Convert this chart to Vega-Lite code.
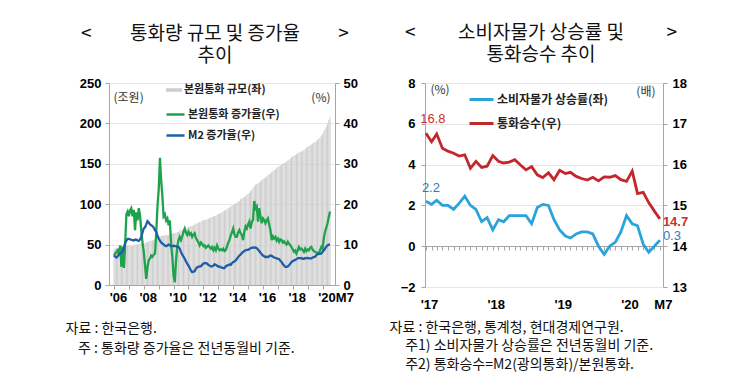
{
"$schema": "https://vega.github.io/schema/vega-lite/v6.json",
"background": "white",
"padding": {"left": 65, "top": 24, "right": 5, "bottom": 5},
"spacing": 31,
"config": {
  "view": {"stroke": null},
  "font": "Noto Sans CJK KR",
  "axis": {"labelFont": "Liberation Sans", "labelFontSize": 13, "labelFontWeight": "bold", "labelColor": "#000", "domainColor": "#a6a6a6", "tickColor": "#a6a6a6", "gridColor": "#e6e6e6", "titleFont": "Noto Sans CJK KR", "titleFontWeight": "normal", "titleFontSize": 12, "titleColor": "#333"},
  "legend": {"labelFont": "Noto Sans CJK KR", "labelFontWeight": "bold", "labelColor": "#222", "padding": 0}
},
"resolve": {"scale": {"stroke": "independent", "fill": "independent"}, "legend": {"stroke": "independent", "fill": "independent"}},
"hconcat": [
{
  "width": 226, "height": 202,
  "title": {"text": ["<\u00a0\u00a0\u00a0\u00a0\u00a0\u00a0\u00a0\u00a0\u00a0통화량 규모 및 증가율\u00a0\u00a0\u00a0\u00a0\u00a0\u00a0\u00a0\u00a0\u00a0>", "추이"], "font": "Noto Sans CJK KR", "fontSize": 19, "fontWeight": "normal", "lineHeight": 22, "anchor": "middle", "dx": -7, "offset": 11, "color": "#111"},
  "data": {"values": [
{"d":"2006-01-01","b":45,"g":7.3,"m":7.3},{"d":"2006-02-01","b":45,"g":7.8,"m":7.0},{"d":"2006-03-01","b":46,"g":8.2,"m":6.8},{"d":"2006-04-01","b":45,"g":8.6,"m":7.1},{"d":"2006-05-01","b":46,"g":7.5,"m":7.5},{"d":"2006-06-01","b":46,"g":9.8,"m":7.8},{"d":"2006-07-01","b":47,"g":4.5,"m":8.0},{"d":"2006-08-01","b":46,"g":9.5,"m":8.3},{"d":"2006-09-01","b":47,"g":4.2,"m":9.2},{"d":"2006-10-01","b":47,"g":10.0,"m":10.5},{"d":"2006-11-01","b":48,"g":17.5,"m":11.0},{"d":"2006-12-01","b":49,"g":18.2,"m":11.4},
{"d":"2007-01-01","b":49,"g":17.0,"m":11.4},{"d":"2007-02-01","b":48,"g":18.5,"m":11.3},{"d":"2007-03-01","b":48,"g":19.0,"m":11.2},{"d":"2007-04-01","b":49,"g":17.0,"m":11.1},{"d":"2007-05-01","b":49,"g":18.6,"m":11.0},{"d":"2007-06-01","b":50,"g":13.6,"m":11.2},{"d":"2007-07-01","b":50,"g":18.0,"m":11.2},{"d":"2007-08-01","b":50,"g":16.0,"m":11.0},{"d":"2007-09-01","b":51,"g":19.0,"m":10.9},{"d":"2007-10-01","b":51,"g":17.3,"m":11.3},{"d":"2007-11-01","b":52,"g":13.2,"m":11.9},{"d":"2007-12-01","b":53,"g":10.5,"m":13.0},
{"d":"2008-01-01","b":52,"g":8.2,"m":14.0},{"d":"2008-02-01","b":52,"g":4.8,"m":14.3},{"d":"2008-03-01","b":53,"g":1.5,"m":15.0},{"d":"2008-04-01","b":53,"g":4.4,"m":15.8},{"d":"2008-05-01","b":54,"g":6.1,"m":15.5},{"d":"2008-06-01","b":54,"g":6.5,"m":15.0},{"d":"2008-07-01","b":55,"g":7.3,"m":14.8},{"d":"2008-08-01","b":55,"g":7.0,"m":14.6},{"d":"2008-09-01","b":56,"g":7.5,"m":14.2},{"d":"2008-10-01","b":57,"g":7.8,"m":13.6},{"d":"2008-11-01","b":58,"g":12.8,"m":13.2},{"d":"2008-12-01","b":59,"g":19.4,"m":12.2},
{"d":"2009-01-01","b":60,"g":23.6,"m":11.5},{"d":"2009-02-01","b":60,"g":31.5,"m":11.0},{"d":"2009-03-01","b":61,"g":26.0,"m":10.5},{"d":"2009-04-01","b":61,"g":22.0,"m":10.3},{"d":"2009-05-01","b":61,"g":17.0,"m":10.0},{"d":"2009-06-01","b":62,"g":17.5,"m":9.8},{"d":"2009-07-01","b":62,"g":16.0,"m":9.6},{"d":"2009-08-01","b":62,"g":16.5,"m":9.8},{"d":"2009-09-01","b":62,"g":14.8,"m":10.0},{"d":"2009-10-01","b":63,"g":16.0,"m":9.8},{"d":"2009-11-01","b":63,"g":10.0,"m":9.6},{"d":"2009-12-01","b":64,"g":6.9,"m":9.6},
{"d":"2010-01-01","b":64,"g":2.3,"m":9.7},{"d":"2010-02-01","b":64,"g":0.7,"m":9.6},{"d":"2010-03-01","b":65,"g":6.1,"m":9.6},{"d":"2010-04-01","b":65,"g":9.5,"m":9.5},{"d":"2010-05-01","b":66,"g":11.1,"m":9.4},{"d":"2010-06-01","b":67,"g":11.9,"m":9.0},{"d":"2010-07-01","b":68,"g":11.1,"m":8.2},{"d":"2010-08-01","b":68,"g":12.0,"m":7.5},{"d":"2010-09-01","b":69,"g":13.2,"m":7.0},{"d":"2010-10-01","b":69,"g":14.0,"m":6.5},{"d":"2010-11-01","b":70,"g":13.0,"m":5.8},{"d":"2010-12-01","b":71,"g":12.4,"m":5.3},
{"d":"2011-01-01","b":72,"g":13.2,"m":4.8},{"d":"2011-02-01","b":72,"g":12.5,"m":4.2},{"d":"2011-03-01","b":73,"g":12.8,"m":3.6},{"d":"2011-04-01","b":73,"g":11.9,"m":3.2},{"d":"2011-05-01","b":74,"g":12.5,"m":3.3},{"d":"2011-06-01","b":75,"g":12.8,"m":3.4},{"d":"2011-07-01","b":76,"g":11.6,"m":4.0},{"d":"2011-08-01","b":76,"g":11.1,"m":4.4},{"d":"2011-09-01","b":77,"g":10.5,"m":4.5},{"d":"2011-10-01","b":78,"g":9.8,"m":4.6},{"d":"2011-11-01","b":78,"g":10.5,"m":4.6},{"d":"2011-12-01","b":80,"g":10.2,"m":5.0},
{"d":"2012-01-01","b":80,"g":9.6,"m":5.3},{"d":"2012-02-01","b":80,"g":9.8,"m":5.4},{"d":"2012-03-01","b":81,"g":9.2,"m":5.4},{"d":"2012-04-01","b":81,"g":9.5,"m":5.3},{"d":"2012-05-01","b":82,"g":9.8,"m":5.0},{"d":"2012-06-01","b":83,"g":9.4,"m":4.8},{"d":"2012-07-01","b":84,"g":9.0,"m":4.6},{"d":"2012-08-01","b":84,"g":9.4,"m":4.6},{"d":"2012-09-01","b":85,"g":8.6,"m":4.8},{"d":"2012-10-01","b":85,"g":9.2,"m":5.1},{"d":"2012-11-01","b":86,"g":8.6,"m":5.0},{"d":"2012-12-01","b":87,"g":9.8,"m":4.8},
{"d":"2013-01-01","b":88,"g":9.0,"m":4.5},{"d":"2013-02-01","b":88,"g":8.6,"m":4.6},{"d":"2013-03-01","b":89,"g":8.8,"m":4.4},{"d":"2013-04-01","b":90,"g":8.6,"m":4.3},{"d":"2013-05-01","b":91,"g":9.0,"m":4.2},{"d":"2013-06-01","b":92,"g":8.4,"m":4.2},{"d":"2013-07-01","b":93,"g":8.6,"m":4.6},{"d":"2013-08-01","b":94,"g":9.5,"m":4.8},{"d":"2013-09-01","b":95,"g":10.5,"m":4.9},{"d":"2013-10-01","b":96,"g":11.1,"m":5.1},{"d":"2013-11-01","b":97,"g":12.2,"m":5.0},{"d":"2013-12-01","b":98,"g":13.0,"m":5.4},
{"d":"2014-01-01","b":99,"g":14.0,"m":5.7},{"d":"2014-02-01","b":100,"g":12.5,"m":5.8},{"d":"2014-03-01","b":101,"g":11.9,"m":6.1},{"d":"2014-04-01","b":102,"g":11.9,"m":6.4},{"d":"2014-05-01","b":103,"g":13.0,"m":6.9},{"d":"2014-06-01","b":104,"g":13.6,"m":7.3},{"d":"2014-07-01","b":106,"g":12.8,"m":7.5},{"d":"2014-08-01","b":107,"g":12.4,"m":7.9},{"d":"2014-09-01","b":108,"g":11.1,"m":8.2},{"d":"2014-10-01","b":109,"g":13.2,"m":8.4},{"d":"2014-11-01","b":110,"g":14.5,"m":8.6},{"d":"2014-12-01","b":112,"g":14.0,"m":8.7},
{"d":"2015-01-01","b":113,"g":15.0,"m":8.7},{"d":"2015-02-01","b":114,"g":15.7,"m":8.9},{"d":"2015-03-01","b":116,"g":14.0,"m":9.1},{"d":"2015-04-01","b":118,"g":15.5,"m":9.2},{"d":"2015-05-01","b":120,"g":16.1,"m":9.3},{"d":"2015-06-01","b":122,"g":20.8,"m":9.2},{"d":"2015-07-01","b":124,"g":19.0,"m":9.3},{"d":"2015-08-01","b":125,"g":19.5,"m":9.1},{"d":"2015-09-01","b":126,"g":15.7,"m":8.8},{"d":"2015-10-01","b":127,"g":19.0,"m":8.4},{"d":"2015-11-01","b":128,"g":17.0,"m":8.0},{"d":"2015-12-01","b":130,"g":15.3,"m":7.6},
{"d":"2016-01-01","b":131,"g":16.5,"m":7.3},{"d":"2016-02-01","b":132,"g":16.1,"m":7.1},{"d":"2016-03-01","b":133,"g":15.3,"m":6.9},{"d":"2016-04-01","b":134,"g":16.0,"m":7.0},{"d":"2016-05-01","b":136,"g":16.5,"m":6.9},{"d":"2016-06-01","b":137,"g":15.0,"m":7.1},{"d":"2016-07-01","b":138,"g":13.6,"m":7.3},{"d":"2016-08-01","b":140,"g":11.1,"m":7.2},{"d":"2016-09-01","b":141,"g":12.0,"m":7.0},{"d":"2016-10-01","b":142,"g":11.5,"m":6.8},{"d":"2016-11-01","b":143,"g":11.9,"m":6.7},{"d":"2016-12-01","b":145,"g":11.0,"m":6.6},
{"d":"2017-01-01","b":146,"g":11.5,"m":6.5},{"d":"2017-02-01","b":147,"g":10.7,"m":6.4},{"d":"2017-03-01","b":148,"g":11.3,"m":6.0},{"d":"2017-04-01","b":149,"g":11.1,"m":5.7},{"d":"2017-05-01","b":150,"g":10.5,"m":5.2},{"d":"2017-06-01","b":151,"g":10.8,"m":4.8},{"d":"2017-07-01","b":152,"g":10.3,"m":4.5},{"d":"2017-08-01","b":153,"g":10.0,"m":4.5},{"d":"2017-09-01","b":154,"g":10.7,"m":4.6},{"d":"2017-10-01","b":155,"g":10.2,"m":4.9},{"d":"2017-11-01","b":156,"g":9.8,"m":5.3},{"d":"2017-12-01","b":158,"g":9.4,"m":5.7},
{"d":"2018-01-01","b":159,"g":8.8,"m":5.9},{"d":"2018-02-01","b":160,"g":8.2,"m":6.1},{"d":"2018-03-01","b":161,"g":8.5,"m":6.2},{"d":"2018-04-01","b":162,"g":7.8,"m":6.4},{"d":"2018-05-01","b":163,"g":8.6,"m":6.6},{"d":"2018-06-01","b":164,"g":9.4,"m":6.7},{"d":"2018-07-01","b":165,"g":8.8,"m":6.6},{"d":"2018-08-01","b":165,"g":9.0,"m":6.7},{"d":"2018-09-01","b":166,"g":8.6,"m":6.5},{"d":"2018-10-01","b":167,"g":8.2,"m":6.5},{"d":"2018-11-01","b":168,"g":9.0,"m":6.7},{"d":"2018-12-01","b":170,"g":8.4,"m":6.6},
{"d":"2019-01-01","b":171,"g":8.8,"m":6.7},{"d":"2019-02-01","b":172,"g":8.6,"m":6.6},{"d":"2019-03-01","b":173,"g":9.2,"m":6.6},{"d":"2019-04-01","b":174,"g":9.4,"m":6.6},{"d":"2019-05-01","b":175,"g":8.8,"m":6.8},{"d":"2019-06-01","b":176,"g":8.4,"m":6.9},{"d":"2019-07-01","b":177,"g":8.2,"m":7.0},{"d":"2019-08-01","b":178,"g":8.0,"m":7.4},{"d":"2019-09-01","b":180,"g":8.0,"m":7.6},{"d":"2019-10-01","b":181,"g":7.8,"m":7.7},{"d":"2019-11-01","b":183,"g":8.6,"m":7.7},{"d":"2019-12-01","b":185,"g":9.4,"m":7.8},
{"d":"2020-01-01","b":187,"g":9.0,"m":8.2},{"d":"2020-02-01","b":190,"g":11.6,"m":8.6},{"d":"2020-03-01","b":193,"g":13.2,"m":9.0},{"d":"2020-04-01","b":196,"g":14.2,"m":9.5},{"d":"2020-05-01","b":200,"g":15.3,"m":9.8},{"d":"2020-06-01","b":204,"g":16.8,"m":10.0},{"d":"2020-07-01","b":208,"g":18.2,"m":10.0}
  ]},
  "encoding": {
    "x": {"field": "d", "type": "temporal",
      "scale": {"type": "utc", "domain": [{"year": 2006, "month": 1, "date": 1, "utc": true}, {"year": 2020, "month": 7, "date": 1, "utc": true}]},
      "axis": {"tickCount": {"interval": "year", "step": 1}, "grid": false, "tickSize": 4, "labelPadding": 2,
        "labelExpr": "utcyear(datum.value)%2==0 ? (utcyear(datum.value)==2020 ? \"'20M7\" : \"'\" + format(utcyear(datum.value)%100,'02d')) : ''",
        "labelOffset": {"condition": {"test": "utcyear(datum.value)==2020", "value": 13}, "value": 4},
        "labelOverlap": false, "labelFlush": false, "labelBound": false,
        "title": ["자료 : 한국은행.", "\u200b\u00a0\u00a0\u00a0\u00a0주 : 통화량 증가율은 전년동월비 기준."],
        "titleFontSize": 14, "titleColor": "#111", "titleAlign": "left", "titleAnchor": "start", "titleX": -44, "titleY": 36, "titleBaseline": "top", "titleLineHeight": 20}
    }
  },
  "layer": [
    {"mark": {"type": "bar", "width": 1},
     "encoding": {
       "y": {"field": "b", "type": "quantitative", "scale": {"domain": [0, 250]},
         "axis": {"orient": "left", "values": [0, 50, 100, 150, 200, 250], "grid": true, "tickSize": 4, "labelPadding": 4,
           "title": "(조원)", "titleAngle": 0, "titleX": 4, "titleY": 14, "titleAlign": "left", "titleBaseline": "middle"}},
       "fill": {"datum": "본원통화 규모(좌)", "type": "nominal", "scale": {"range": ["#cdcdcd"]},
         "legend": {"orient": "none", "legendX": 57, "legendY": -1, "title": null, "symbolType": "M-1,-0.22H1V0.22H-1Z", "symbolSize": 256, "symbolStrokeWidth": 0, "labelFontSize": 11, "labelOffset": 2}}
     }},
    {"transform": [{"fold": ["g", "m"], "as": ["key", "val"]}],
     "mark": {"type": "line", "strokeWidth": 2.3},
     "encoding": {
       "y": {"field": "val", "type": "quantitative", "scale": {"domain": [0, 50]},
         "axis": {"orient": "right", "values": [0, 10, 20, 30, 40, 50], "grid": false, "tickSize": 4, "labelPadding": 4,
           "title": "(%)", "titleAngle": 0, "titleX": -5, "titleY": 14, "titleAlign": "right", "titleBaseline": "middle"}},
       "stroke": {"field": "key", "type": "nominal", "scale": {"domain": ["g", "m"], "range": ["#1fa24c", "#1d5ea8"]},
         "legend": {"orient": "none", "legendX": 56, "legendY": 21, "title": null, "symbolType": "stroke", "symbolSize": 324, "symbolStrokeWidth": 2.5, "rowPadding": 5, "labelFontSize": 11, "labelOffset": 2,
           "labelExpr": "datum.label == 'g' ? '본원통화 증가율(우)' : 'M2 증가율(우)'"}}
     }}
  ],
  "resolve": {"scale": {"y": "independent"}}
},
{
  "width": 238, "height": 204,
  "title": {"text": ["<\u00a0\u00a0\u00a0\u00a0\u00a0\u00a0\u00a0\u00a0\u00a0\u00a0소비자물가 상승률 및\u00a0\u00a0\u00a0\u00a0\u00a0\u00a0\u00a0\u00a0\u00a0\u00a0>", "통화승수 추이"], "font": "Noto Sans CJK KR", "fontSize": 19, "fontWeight": "normal", "lineHeight": 22, "anchor": "middle", "dx": -3, "offset": 12, "color": "#111"},
  "data": {"values": [
{"d":"2017-01-01","c":2.2,"r":16.77},{"d":"2017-02-01","c":2.05,"r":16.56},{"d":"2017-03-01","c":2.25,"r":16.75},{"d":"2017-04-01","c":2.0,"r":16.40},{"d":"2017-05-01","c":2.0,"r":16.33},{"d":"2017-06-01","c":1.8,"r":16.28},{"d":"2017-07-01","c":2.1,"r":16.21},{"d":"2017-08-01","c":2.45,"r":16.24},{"d":"2017-09-01","c":2.0,"r":15.91},{"d":"2017-10-01","c":1.8,"r":16.08},{"d":"2017-11-01","c":1.2,"r":15.93},{"d":"2017-12-01","c":1.4,"r":15.96},
{"d":"2018-01-01","c":0.8,"r":16.22},{"d":"2018-02-01","c":1.3,"r":16.08},{"d":"2018-03-01","c":1.2,"r":16.04},{"d":"2018-04-01","c":1.5,"r":16.06},{"d":"2018-05-01","c":1.5,"r":16.12},{"d":"2018-06-01","c":1.5,"r":15.99},{"d":"2018-07-01","c":1.5,"r":15.87},{"d":"2018-08-01","c":1.1,"r":15.95},{"d":"2018-09-01","c":1.9,"r":15.75},{"d":"2018-10-01","c":2.05,"r":15.68},{"d":"2018-11-01","c":2.0,"r":15.80},{"d":"2018-12-01","c":1.3,"r":15.63},
{"d":"2019-01-01","c":0.8,"r":15.86},{"d":"2019-02-01","c":0.5,"r":15.78},{"d":"2019-03-01","c":0.4,"r":15.81},{"d":"2019-04-01","c":0.6,"r":15.71},{"d":"2019-05-01","c":0.7,"r":15.66},{"d":"2019-06-01","c":0.7,"r":15.62},{"d":"2019-07-01","c":0.6,"r":15.69},{"d":"2019-08-01","c":0.0,"r":15.60},{"d":"2019-09-01","c":-0.4,"r":15.70},{"d":"2019-10-01","c":0.0,"r":15.69},{"d":"2019-11-01","c":0.2,"r":15.73},{"d":"2019-12-01","c":0.7,"r":15.63},
{"d":"2020-01-01","c":1.5,"r":15.59},{"d":"2020-02-01","c":1.1,"r":15.84},{"d":"2020-03-01","c":1.0,"r":15.29},{"d":"2020-04-01","c":0.1,"r":15.32},{"d":"2020-05-01","c":-0.3,"r":15.07},{"d":"2020-06-01","c":0.0,"r":14.86},{"d":"2020-07-01","c":0.3,"r":14.67}
  ]},
  "encoding": {
    "x": {"field": "d", "type": "temporal",
      "scale": {"type": "utc", "domain": [{"year": 2016, "month": 12, "date": 27, "utc": true}, {"year": 2020, "month": 7, "date": 18, "utc": true}]},
      "axis": {"tickCount": {"interval": "month", "step": 1}, "grid": false, "offset": -41, "tickSize": 4, "labelPadding": 48,
        "labelExpr": "utcmonth(datum.value)==0 ? \"'\" + format(utcyear(datum.value)%100,'02d') : ((utcmonth(datum.value)==6 && utcyear(datum.value)==2020) ? 'M7' : '')",
        "labelOffset": 3, "labelOverlap": false, "labelFlush": false, "labelBound": false,
        "title": ["자료 : 한국은행, 통계청, 현대경제연구원.", "\u200b\u00a0\u00a0\u00a0\u00a0\u00a0주1) 소비자물가 상승률은 전년동월비 기준.", "\u200b\u00a0\u00a0\u00a0\u00a0\u00a0주2) 통화승수=M2(광의통화)/본원통화."],
        "titleFontSize": 14, "titleColor": "#111", "titleAlign": "left", "titleAnchor": "start", "titleX": -36, "titleY": 74, "titleBaseline": "top", "titleLineHeight": 18.5}
    }
  },
  "layer": [
    {"encoding": {
       "y": {"field": "c", "type": "quantitative", "scale": {"domain": [-2, 8]},
         "axis": {"orient": "left", "values": [-2, 0, 2, 4, 6, 8], "grid": true, "tickSize": 4, "labelPadding": 6,
           "title": "(%)", "titleAngle": 0, "titleX": 5, "titleY": 6, "titleAlign": "left", "titleBaseline": "middle"}}},
     "layer": [
      {"mark": {"type": "line", "strokeWidth": 2.8},
       "encoding": {
         "stroke": {"datum": "소비자물가 상승률(좌)", "type": "nominal",
           "scale": {"domain": ["소비자물가 상승률(좌)", "통화승수(우)"], "range": ["#29a3d9", "#c3262b"]},
           "legend": {"orient": "none", "legendX": 43, "legendY": 3, "title": null, "symbolType": "stroke", "symbolSize": 576, "symbolStrokeWidth": 3, "rowPadding": 4, "labelFontSize": 12, "labelOffset": 2}}
       }},
      {"transform": [{"filter": "utcyear(datum.d)==2017 && utcmonth(datum.d)==0"}],
       "mark": {"type": "text", "font": "Liberation Sans", "fontSize": 13, "color": "#2d7db8", "align": "center", "dx": 5, "dy": -13},
       "encoding": {"text": {"field": "c", "type": "quantitative", "format": ".1f"}}},
      {"transform": [{"filter": "utcyear(datum.d)==2020 && utcmonth(datum.d)==6"}],
       "mark": {"type": "text", "font": "Liberation Sans", "fontSize": 13, "color": "#2d7db8", "align": "left", "dx": 3, "dy": -4},
       "encoding": {"text": {"field": "c", "type": "quantitative", "format": ".1f"}}}
    ]},
    {"encoding": {
       "y": {"field": "r", "type": "quantitative", "scale": {"domain": [13, 18]},
         "axis": {"orient": "right", "values": [13, 14, 15, 16, 17, 18], "grid": false, "tickSize": 4, "labelPadding": 5,
           "title": "(배)", "titleAngle": 0, "titleX": -8, "titleY": 8, "titleAlign": "right", "titleBaseline": "middle"}}},
     "layer": [
      {"mark": {"type": "line", "strokeWidth": 2.8},
       "encoding": {"stroke": {"datum": "통화승수(우)", "type": "nominal"}}},
      {"transform": [{"filter": "utcyear(datum.d)==2017 && utcmonth(datum.d)==0"}],
       "mark": {"type": "text", "font": "Liberation Sans", "fontSize": 13, "color": "#c8302f", "align": "center", "dx": 7, "dy": -14},
       "encoding": {"text": {"field": "r", "type": "quantitative", "format": ".1f"}}},
      {"transform": [{"filter": "utcyear(datum.d)==2020 && utcmonth(datum.d)==6"}],
       "mark": {"type": "text", "font": "Liberation Sans", "fontSize": 13, "fontWeight": "bold", "color": "#c8302f", "align": "left", "dx": 3, "dy": 3},
       "encoding": {"text": {"field": "r", "type": "quantitative", "format": ".1f"}}}
    ]}
  ],
  "resolve": {"scale": {"y": "independent"}}
}
]
}
